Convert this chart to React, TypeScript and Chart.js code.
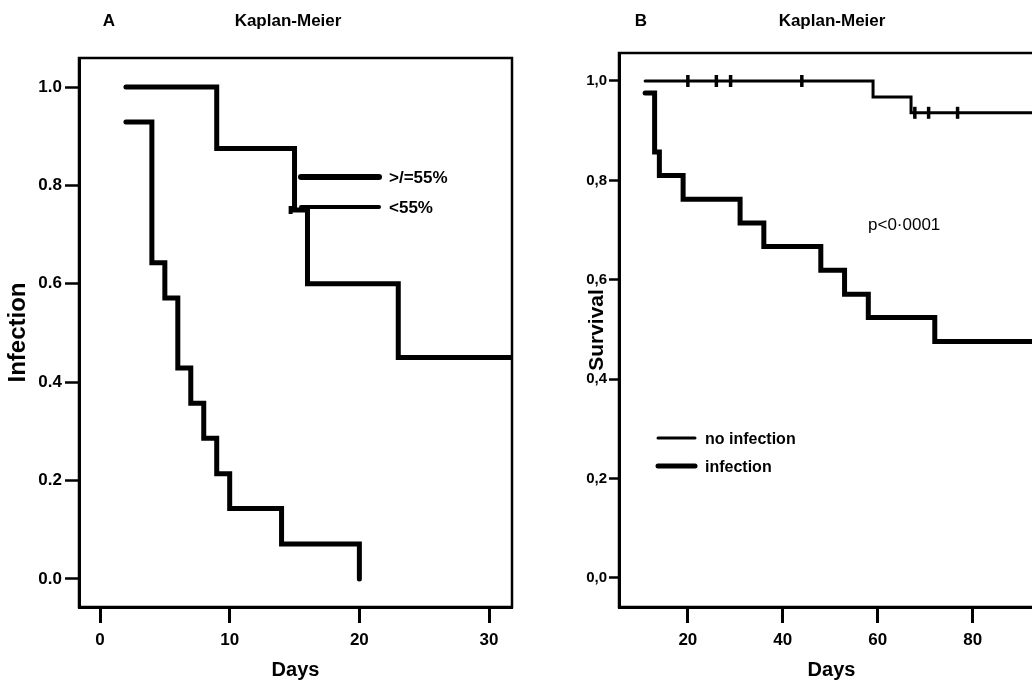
import React, { useEffect, useRef } from "react";
import { Chart, registerables } from "chart.js";
Chart.register(...registerables);

const FONT = "Arial, 'Liberation Sans', Helvetica, sans-serif";

// ---------- Panel A data ----------
const A_X_TICKS = [0, 10, 20, 30];
const A_Y_TICKS = [0, 0.2, 0.4, 0.6, 0.8, 1.0];
const A_HIGH_DAYS = [2, 9, 15, 16, 23, 32];
const A_HIGH_VALUES = [1.0, 0.875, 0.75, 0.6, 0.45, 0.45];
const A_HIGH_CENSOR_DAYS = [14.7];
const A_HIGH_CENSOR_VALUES = [0.75];
const A_LOW_DAYS = [2, 4, 5, 6, 7, 8, 9, 10, 14, 20];
const A_LOW_VALUES = [0.929, 0.643, 0.571, 0.429, 0.357, 0.286, 0.214, 0.143, 0.071, 0];
const A_LABELS = [">/=55%", "<55%"];

// ---------- Panel B data ----------
const B_X_TICKS = [20, 40, 60, 80];
const B_Y_TICKS = [0, 0.2, 0.4, 0.6, 0.8, 1.0];
const B_NOINF_DAYS = [11, 59, 67, 96];
const B_NOINF_VALUES = [1, 0.968, 0.936, 0.936];
const B_NOINF_CENSOR_DAYS = [20, 26, 29, 44, 67.8, 70.7, 76.8];
const B_NOINF_CENSOR_VALUES = [1, 1, 1, 1, 0.936, 0.936, 0.936];
const B_INF_DAYS = [11, 13, 14, 19, 31, 36, 48, 53, 58, 72, 96];
const B_INF_VALUES = [0.976, 0.857, 0.81, 0.762, 0.714, 0.667, 0.619, 0.571, 0.524, 0.476, 0.476];
const B_LABELS = ["no infection", "infection"];
const B_PVALUE = "p<0·0001";

const pts = (xs: number[], ys: number[]) => xs.map((x, i) => ({ x, y: ys[i] }));

const stepLine = (xs: number[], ys: number[], w: number) => ({
  type: "line",
  data: pts(xs, ys),
  stepped: true,
  borderColor: "#000",
  borderWidth: w,
  pointRadius: 0,
  fill: false,
  borderCapStyle: "round",
  borderJoinStyle: "miter",
});

const censor = (xs: number[], ys: number[], r: number, w: number) => ({
  type: "scatter",
  data: pts(xs, ys),
  showLine: false,
  pointStyle: "line",
  rotation: 90,
  pointRadius: r,
  pointBorderWidth: w,
  borderWidth: w,
  pointBorderColor: "#000",
  borderColor: "#000",
  backgroundColor: "#000",
});

function scales(opts: any) {
  return {
    x: {
      type: "linear",
      min: opts.xMin,
      max: opts.xMax,
      afterBuildTicks: (s: any) => {
        s.ticks = opts.xTicks.map((v: number) => ({ value: v }));
      },
      afterFit: (s: any) => {
        s.height = 77;
      },
      ticks: {
        autoSkip: false,
        maxRotation: 0,
        color: "#000",
        padding: 7,
        font: { family: FONT, size: 17, weight: "bold" },
        callback: (v: any) => String(v),
      },
      grid: {
        drawOnChartArea: false,
        drawTicks: true,
        tickLength: 16,
        tickWidth: 3,
        tickColor: "#000",
        color: "#000",
      },
      border: { display: true, color: "#000", width: 3 },
      title: {
        display: true,
        text: "Days",
        color: "#000",
        font: { family: FONT, size: 20, weight: "bold" },
        padding: { top: 0, bottom: 2 },
      },
    },
    y: {
      type: "linear",
      min: opts.yMin,
      max: opts.yMax,
      afterBuildTicks: (s: any) => {
        s.ticks = opts.yTicks.map((v: number) => ({ value: v }));
      },
      afterFit: (s: any) => {
        s.width = opts.yWidth;
      },
      ticks: {
        autoSkip: false,
        color: "#000",
        padding: opts.yPad,
        font: { family: FONT, size: opts.yFont, weight: "bold" },
        callback: opts.yFmt,
      },
      grid: {
        drawOnChartArea: false,
        drawTicks: true,
        tickLength: opts.yTick,
        tickWidth: 2.5,
        tickColor: "#000",
        color: "#000",
      },
      border: { display: true, color: "#000", width: 3 },
      title: {
        display: true,
        text: opts.yTitle,
        color: "#000",
        font: { family: FONT, size: opts.yTitleSize, weight: "bold" },
        padding: { top: opts.yTitlePad, bottom: 0 },
      },
    },
  };
}

function decor(id: string, draw: (ctx: CanvasRenderingContext2D, chart: any) => void) {
  return {
    id,
    afterDraw(chart: any) {
      const ctx = chart.ctx as CanvasRenderingContext2D;
      const a = chart.chartArea;
      ctx.save();
      ctx.strokeStyle = "#000";
      ctx.lineWidth = 2.5;
      ctx.strokeRect(a.left, a.top, a.right - a.left, a.bottom - a.top);
      ctx.fillStyle = "#000";
      ctx.textBaseline = "middle";
      draw(ctx, chart);
      ctx.restore();
    },
  };
}

function legendLine(ctx: CanvasRenderingContext2D, x1: number, x2: number, y: number, w: number) {
  ctx.beginPath();
  ctx.lineCap = "round";
  ctx.lineWidth = w;
  ctx.moveTo(x1, y);
  ctx.lineTo(x2, y);
  ctx.stroke();
}

function configA(): any {
  return {
    type: "line",
    data: {
      datasets: [
        { label: A_LABELS[0], ...stepLine(A_HIGH_DAYS, A_HIGH_VALUES, 5) },
        { label: A_LABELS[1], ...stepLine(A_LOW_DAYS, A_LOW_VALUES, 5) },
        { label: "censored", ...censor(A_HIGH_CENSOR_DAYS, A_HIGH_CENSOR_VALUES, 4, 4) },
      ],
    },
    options: {
      responsive: false,
      animation: false,
      events: [],
      layout: { padding: { left: 0, top: 58, right: 8, bottom: 0 } },
      plugins: { legend: { display: false }, tooltip: { enabled: false } },
      scales: scales({
        xMin: -1.62,
        xMax: 31.77,
        xTicks: A_X_TICKS,
        yMin: -0.057,
        yMax: 1.059,
        yTicks: A_Y_TICKS,
        yWidth: 79,
        yPad: 3,
        yTick: 14,
        yFont: 17,
        yTitle: "Infection",
        yTitleSize: 24,
        yTitlePad: 4,
        yFmt: (v: any) => Number(v).toFixed(1),
      }),
    },
    plugins: [
      decor("decorA", (ctx) => {
        ctx.textAlign = "center";
        ctx.font = `bold 17px ${FONT}`;
        ctx.fillText("A", 109, 21);
        ctx.fillText("Kaplan-Meier", 288, 21);
        legendLine(ctx, 301, 379, 177, 6);
        legendLine(ctx, 301, 379, 207, 4);
        ctx.textAlign = "left";
        ctx.font = `bold 17px ${FONT}`;
        ctx.fillText(A_LABELS[0], 389, 178);
        ctx.fillText(A_LABELS[1], 389, 208);
      }),
    ],
  };
}

function configB(): any {
  return {
    type: "line",
    data: {
      datasets: [
        { label: B_LABELS[0], ...stepLine(B_NOINF_DAYS, B_NOINF_VALUES, 3) },
        { label: B_LABELS[1], ...stepLine(B_INF_DAYS, B_INF_VALUES, 5) },
        { label: "censored", ...censor(B_NOINF_CENSOR_DAYS, B_NOINF_CENSOR_VALUES, 6, 3.5) },
      ],
    },
    options: {
      responsive: false,
      animation: false,
      events: [],
      layout: { padding: { left: 65, top: 53, right: 36, bottom: 0 } },
      plugins: { legend: { display: false }, tooltip: { enabled: false } },
      scales: scales({
        xMin: 5.5,
        xMax: 95,
        xTicks: B_X_TICKS,
        yMin: -0.0584,
        yMax: 1.0563,
        yTicks: B_Y_TICKS,
        yWidth: 34,
        yPad: 2,
        yTick: 10,
        yFont: 15,
        yTitle: "Survival",
        yTitleSize: 21,
        yTitlePad: 0,
        yFmt: (v: any) => Number(v).toFixed(1).replace(".", ","),
      }),
    },
    plugins: [
      decor("decorB", (ctx) => {
        ctx.textAlign = "center";
        ctx.font = `bold 17px ${FONT}`;
        ctx.fillText("B", 121, 21);
        ctx.fillText("Kaplan-Meier", 312, 21);
        legendLine(ctx, 138, 175, 438, 3);
        legendLine(ctx, 138, 175, 466, 5);
        ctx.textAlign = "left";
        ctx.font = `bold 16px ${FONT}`;
        ctx.fillText(B_LABELS[0], 185, 440);
        ctx.fillText(B_LABELS[1], 185, 468);
        ctx.font = `17px ${FONT}`;
        ctx.fillText(B_PVALUE, 348, 225);
      }),
    ],
  };
}

function Panel({ left, width, build }: { left: number; width: number; build: () => any }) {
  const ref = useRef<HTMLCanvasElement | null>(null);
  useEffect(() => {
    if (!ref.current) return;
    const chart = new Chart(ref.current, build());
    return () => chart.destroy();
  }, []);
  return (
    <canvas
      ref={ref}
      width={width}
      height={684}
      style={{ position: "absolute", left, top: 0, width, height: 684, display: "block" }}
    />
  );
}

export default function App() {
  return (
    <div
      style={{
        position: "absolute",
        left: 0,
        top: 0,
        width: 1032,
        height: 684,
        overflow: "hidden",
        background: "#fff",
      }}
    >
      <Panel left={0} width={520} build={configA} />
      <Panel left={520} width={560} build={configB} />
    </div>
  );
}
